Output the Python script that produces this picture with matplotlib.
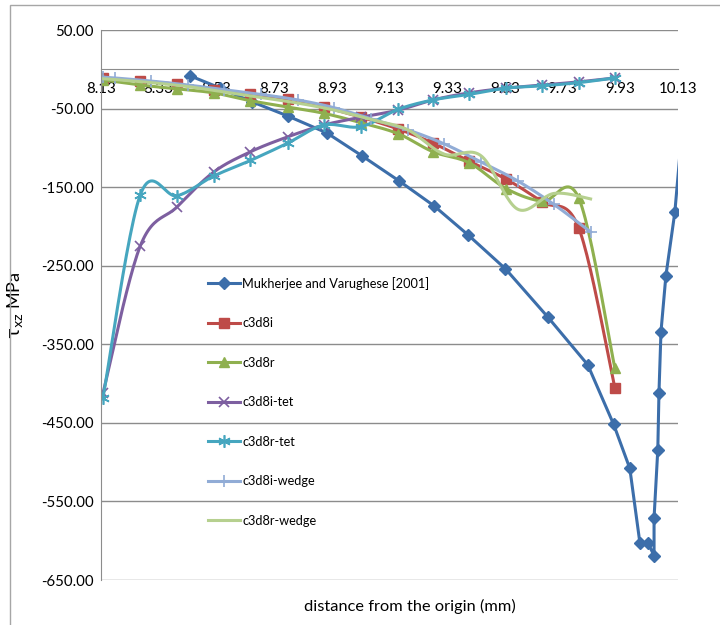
import numpy as np
import matplotlib
matplotlib.use('Agg')
import matplotlib.pyplot as plt
from matplotlib.patches import Rectangle

plt.rcParams['font.family'] = ['Lato', 'DejaVu Sans']

# Mukherjee and Varughese [2001] reference curve
x_muk = [8.44, 8.544, 8.655, 8.777, 8.913, 9.034, 9.163, 9.285, 9.403, 9.532, 9.678, 9.817,
         9.907, 9.963, 9.998, 10.026, 10.047, 10.047, 10.060, 10.064, 10.071, 10.088, 10.119, 10.16]
y_muk = [-8.5, -24, -41.6, -59.4, -81, -110, -142, -174, -211, -254, -315, -376,
         -452, -508, -603, -603, -619, -571, -484, -412, -334, -263, -182, -10]

# hex / tet element results share the same node positions
x_nodes = [8.137, 8.266, 8.394, 8.52, 8.648, 8.777, 8.902, 9.031, 9.16, 9.281, 9.406, 9.535, 9.66, 9.786, 9.911]
y_c3d8i = [-11, -15, -19, -26.5, -31.4, -38, -48, -61, -76, -94, -117, -140, -169, -202, -405]
y_c3d8r = [-13.6, -20, -25, -30, -40, -48, -56, -68, -82, -105, -119, -152, -168, -164, -380]
y_c3d8i_tet = [-412, -225, -175, -131, -105, -86, -71, -61, -52, -39, -30, -24, -20, -16, -11]
y_c3d8r_tet = [-418, -160, -161, -136, -116, -94, -71, -73, -51, -39, -32, -24, -21, -17, -11]

# wedge element results
x_wedge = [8.137, 8.177, 8.304, 8.431, 8.558, 8.685, 8.812, 8.939, 9.066, 9.193, 9.32, 9.447, 9.574, 9.70, 9.827]
y_c3d8i_wedge = [-10, -11, -15, -20, -26, -32, -39, -49, -63, -77, -95, -118, -142, -172, -207]
y_c3d8r_wedge = [-12, -13, -17, -22, -29, -36, -43, -52, -64, -77, -108, -110, -178, -158, -165]


def smooth(x, y, n=24):
    # Catmull-Rom through the points, like Excel's "smoothed line"
    p = np.column_stack([x, y]).astype(float)
    p = np.vstack([p[0], p, p[-1]])
    t = np.linspace(0, 1, n, endpoint=False)[:, None]
    segs = []
    for i in range(1, len(p) - 2):
        p0, p1, p2, p3 = p[i - 1], p[i], p[i + 1], p[i + 2]
        c1 = p1 + (p2 - p0) / 6
        c2 = p2 - (p3 - p1) / 6
        segs.append((1 - t) ** 3 * p1 + 3 * (1 - t) ** 2 * t * c1 + 3 * (1 - t) * t ** 2 * c2 + t ** 3 * p2)
    segs.append(p[-2][None, :])
    c = np.vstack(segs)
    return c[:, 0], c[:, 1], [k * n for k in range(len(x))]


fig = plt.figure(figsize=(7.2, 6.25), dpi=100)
ax = fig.add_axes([101 / 720, 1 - 580 / 625, 577 / 720, 550 / 625])

# chart-area border
fig.patches.append(Rectangle((10 / 720, -0.2), 1.2, 1.2 - 5 / 625, transform=fig.transFigure,
                             fill=False, edgecolor='#a6a6a6', linewidth=1.0))

lw = 2.2
ax.plot(x_muk, y_muk, color='#3c6eaa', lw=lw, marker='D', ms=6, label='Mukherjee and Varughese [2001]')

series = [
    (x_nodes, y_c3d8i, '#be4b48', dict(marker='s', ms=7), 'c3d8i'),
    (x_nodes, y_c3d8r, '#8fb04f', dict(marker='^', ms=7), 'c3d8r'),
    (x_nodes, y_c3d8i_tet, '#7d5fa0', dict(marker='x', ms=7, mew=1.2), 'c3d8i-tet'),
    (x_nodes, y_c3d8r_tet, '#46a6bf', dict(marker=(6, 2, 0), ms=9, mew=1.2), 'c3d8r-tet'),
    (x_wedge, y_c3d8i_wedge, '#91acd6', dict(marker='+', ms=9, mew=1.2), 'c3d8i-wedge'),
    (x_wedge, y_c3d8r_wedge, '#b6d08f', dict(marker='None'), 'c3d8r-wedge'),
]
for xs, ys, col, mk, lab in series:
    cx, cy, idx = smooth(xs, ys)
    ax.plot(cx, cy, color=col, lw=lw, markevery=idx, label=lab, **mk)

ax.set_xlim(8.13, 10.13)
ax.set_ylim(-650, 50)
ax.set_xticks(np.arange(8.13, 10.14, 0.2))
ax.set_xticklabels(['%.2f' % v for v in np.arange(8.13, 10.14, 0.2)])
ax.set_yticks(np.arange(-650, 51, 100))
ax.set_yticklabels(['%.2f' % v for v in np.arange(-650, 51, 100)])
ax.tick_params(axis='both', length=0, labelsize=10.8, colors='black')
ax.tick_params(axis='x', pad=9)
ax.tick_params(axis='y', pad=5)
ax.grid(axis='y', color='#8c8c8c', lw=1.0)
ax.set_axisbelow(True)
for s in ['top', 'right']:
    ax.spines[s].set_visible(False)
ax.spines['bottom'].set_position(('data', 0))
ax.spines['bottom'].set_color('#8c8c8c')
ax.spines['left'].set_color('#8c8c8c')

ax.set_ylabel(r'$\mathrm{\tau_{xz}}$ MPa', fontsize=13, labelpad=12)
fig.text(410 / 720, 1 - 606 / 625, 'distance from the origin (mm)', fontsize=11.8, ha='center', va='center')

ax.legend(loc='upper left', bbox_to_anchor=(208 / 720, 1 - 277 / 625), bbox_transform=fig.transFigure,
          frameon=False, fontsize=9.2, numpoints=1, handlelength=2.5, handletextpad=0.2,
          labelspacing=2.15, borderpad=0, borderaxespad=0)

fig.savefig('out.png', dpi=100)
